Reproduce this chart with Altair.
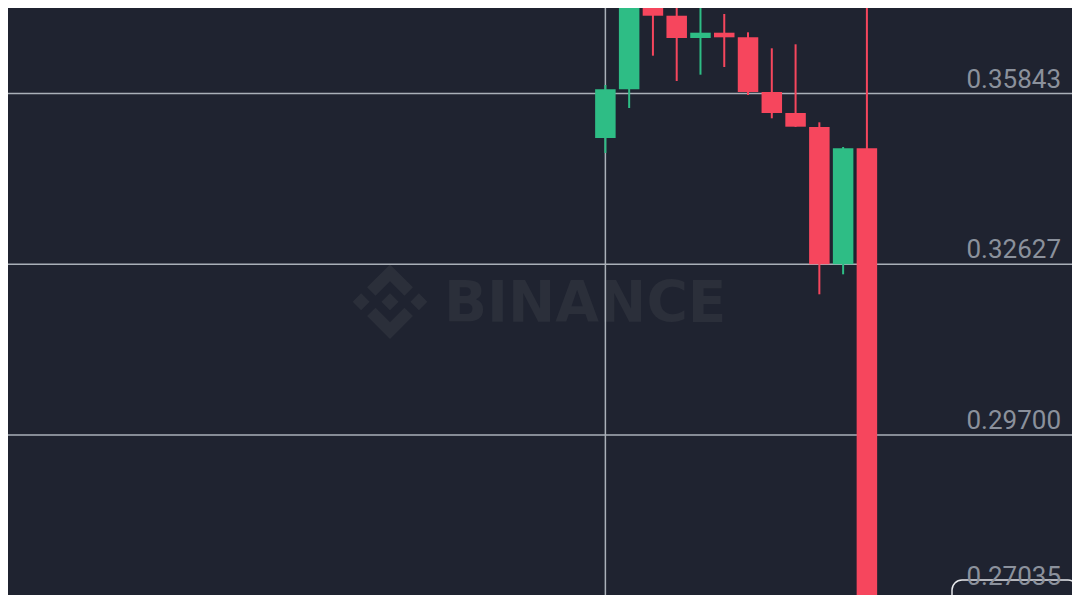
import math
import pandas as pd
import altair as alt

# ---- data ----
idx    = [1, 2, 3, 4, 5, 6, 7, 8, 9, 10, 11, 12]
opens  = [0.34976, 0.35926, 0.38120, 0.37411, 0.36955, 0.37063, 0.36969, 0.35873, 0.35460, 0.35188, 0.32627, 0.34778]
highs  = [0.36011, 0.38350, 0.38250, 0.37647, 0.37900, 0.37447, 0.37071, 0.36746, 0.36827, 0.35279, 0.34803, 0.39000]
lows   = [0.34688, 0.35558, 0.36597, 0.36090, 0.36216, 0.36370, 0.35813, 0.35357, 0.35190, 0.32092, 0.32447, 0.25800]
closes = [0.35926, 0.38120, 0.37411, 0.36955, 0.37063, 0.36969, 0.35873, 0.35460, 0.35194, 0.32626, 0.34778, 0.26000]

tick_values = [0.35843, 0.32627, 0.29700, 0.27035]
tick_labels = ["0.35843", "0.32627", "0.29700", "0.27035"]
crosshair_idx = [1]
watermark_text = ["BINANCE"]

# ---- styling ----
BG = "#1f2330"
GREEN = "#2ebd85"
RED = "#f6465d"
GRID = "#aab0b8"
LABEL = "#8b919c"
WM = "#2b2f3a"

W, H = 1064, 587
# scale domains so the panel matches the reference framing (panel origin = page offset 8px)
x_domain = [1 - 598 / 24, 1 + (W - 598) / 24]
y_domain = [0.35843 * math.exp(-(H - 85.5) / 1816.5), 0.35843 * math.exp(85.5 / 1816.5)]

candles = pd.DataFrame({"idx": idx, "open": opens, "high": highs, "low": lows, "close": closes})
candles["dir"] = ["up" if c >= o else "down" for o, c in zip(opens, closes)]
ticks = pd.DataFrame({"price": tick_values, "label": tick_labels})
cross = pd.DataFrame({"idx": crosshair_idx})
wm = pd.DataFrame({"t": watermark_text})

xs = alt.Scale(domain=x_domain, nice=False, zero=False)
ys = alt.Scale(type="log", domain=y_domain, nice=False, zero=False)
col = alt.Color("dir:N", scale=alt.Scale(domain=["up", "down"], range=[GREEN, RED]), legend=None)

logo_path = (
    "M-0.388,-0.160 L0,-0.548 L0.388,-0.159 L0.614,-0.385 L0,-1 L-0.614,-0.385 Z "
    "M-0.388,0.160 L0,0.548 L0.388,0.159 L0.614,0.385 L0,1 L-0.614,0.385 Z "
    "M-1,0 L-0.774,-0.226 L-0.548,0 L-0.774,0.226 Z "
    "M1,0 L0.774,-0.226 L0.548,0 L0.774,0.226 Z "
    "M0.229,0 L0,-0.229 L-0.229,0 L0,0.229 Z"
)

logo = alt.Chart(wm).mark_point(shape=logo_path, filled=True, color=WM, opacity=1, size=5565, strokeWidth=0).encode(
    x=alt.value(382), y=alt.value(293.7)
)
wm_txt = alt.Chart(wm).mark_text(
    font="DejaVu Sans", fontWeight="bold", fontSize=56.5, color=WM, align="left", baseline="alphabetic"
).encode(x=alt.value(436), y=alt.value(313.7), text="t:N")

grid = alt.Chart(ticks).mark_rule(color=GRID, strokeWidth=1.5).encode(
    y=alt.Y("price:Q", scale=ys, axis=None)
)
vline = alt.Chart(cross).mark_rule(color=GRID, strokeWidth=1.5).encode(
    x=alt.X("idx:Q", scale=xs, axis=None)
)
wicks = alt.Chart(candles).mark_rule(strokeWidth=2, clip=True).encode(
    x=alt.X("idx:Q", scale=xs, axis=None),
    y=alt.Y("low:Q", scale=ys, axis=None),
    y2="high:Q",
    color=col,
)
bodies = alt.Chart(candles).mark_bar(size=20.5, clip=True).encode(
    x=alt.X("idx:Q", scale=xs, axis=None),
    y=alt.Y("open:Q", scale=ys, axis=None),
    y2="close:Q",
    color=col,
)
label_style = dict(font="Roboto", fontSize=26, color=LABEL, align="right", baseline="alphabetic")
labels_main = alt.Chart(ticks).transform_filter("datum.price > 0.28").mark_text(dy=-6, **label_style).encode(
    x=alt.value(1053),
    y=alt.Y("price:Q", scale=ys, axis=None),
    text="label:N",
)
# lowest label sits at the bottom edge: lift it so it stays whole inside the panel
labels_low = alt.Chart(ticks).transform_filter("datum.price <= 0.28").mark_text(dy=-21, **label_style).encode(
    x=alt.value(1053),
    y=alt.Y("price:Q", scale=ys, axis=None),
    text="label:N",
)
box = alt.Chart(wm).mark_rect(
    fillOpacity=0, stroke="#e6e8eb", strokeWidth=1.5, cornerRadius=10
).encode(x=alt.value(944), x2=alt.value(1070), y=alt.value(572), y2=alt.value(640))

chart = (
    alt.layer(logo, wm_txt, grid, vline, wicks, bodies, box, labels_main, labels_low)
    .properties(
        width=W, height=H, background=BG, padding=0,
        autosize=alt.AutoSizeParams(type="none"),
    )
    .configure_view(strokeWidth=0, fill=BG)
)

chart.save("out.html", embed_options={"renderer": "svg", "actions": False})
